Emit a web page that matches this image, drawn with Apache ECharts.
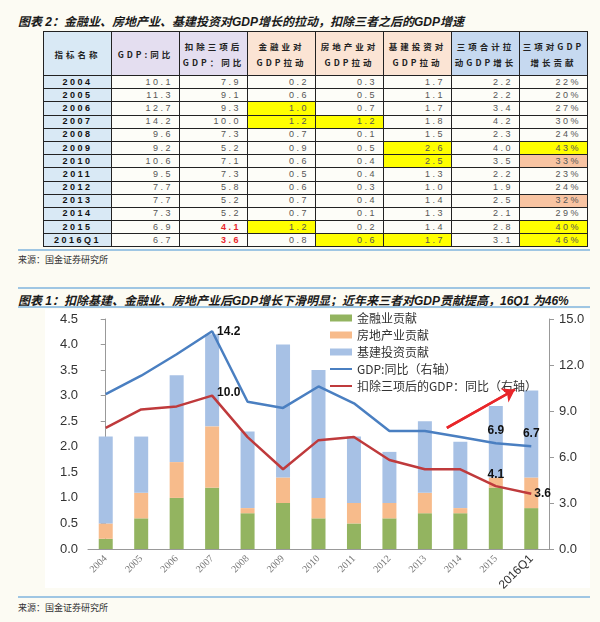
<!DOCTYPE html>
<html>
<head>
<meta charset="utf-8">
<script src="https://cdn.jsdelivr.net/npm/echarts@6/dist/echarts.min.js"></script>
<style>
  body { margin: 0; width: 600px; height: 622px; background: #fcfbf3; position: relative; overflow: hidden;
         font-family: "Liberation Sans", "Noto Sans CJK SC", sans-serif; }
  .ttl { position: absolute; left: 18px; font-size: 12px; font-weight: bold; font-style: italic; color: #1a1a1a;
         font-family: "Liberation Sans", "Noto Sans CJK SC", sans-serif; white-space: nowrap; }
  .rule { position: absolute; left: 18px; width: 572px; height: 2px; background: #9fc6e3; }
  .src { position: absolute; left: 18px; font-size: 9px; color: #333; font-family: "Noto Sans CJK SC", sans-serif; }
  #tbl { position: absolute; left: 43px; top: 31px; border-collapse: collapse; table-layout: fixed; }
  #tbl td, #tbl th { border: 1.5px solid #222; padding: 0; }
  #tbl th { height: 43px; font-size: 8.5px; font-weight: bold; color: #222; letter-spacing: 3px; line-height: 16px;
            font-family: "Noto Sans CJK SC", sans-serif; }
  #tbl td { height: 12.2px; font-size: 9px; line-height: 11px; }
  #tbl td.yr { background: #d9e9f5; text-align: center; font-weight: bold; color: #111; letter-spacing: 2.5px; }
  #tbl td.v { background: #fdfdf8; text-align: right; padding-right: 6px; color: #555; letter-spacing: 2.5px; }
  #tbl td.hy { background: #ffff00; }
  #tbl td.hs { background: #f8c4a2; }
  #tbl td.red { color: #e8262a; font-weight: bold; }
  #chart { position: absolute; left: 0; top: 310px; width: 600px; height: 286px; }
  #panel { position: absolute; left: 45px; top: 309px; width: 545px; height: 279px; background: #ffffff; }
</style>
</head>
<body>
<div class="ttl" style="top:12px">图表 2：金融业、房地产业、基建投资对GDP增长的拉动，扣除三者之后的GDP增速</div>
<table id="tbl"></table>
<div class="rule" style="top:249px"></div>
<div class="src" style="top:253px">来源：国金证券研究所</div>
<div class="rule" style="top:287px"></div>
<div class="ttl" style="top:291px">图表 1：扣除基建、金融业、房地产业后GDP增长下滑明显；近年来三者对GDP贡献提高，16Q1 为46%</div>
<div class="rule" style="top:306px"></div>
<div id="panel"></div>
<div id="chart"></div>
<div class="rule" style="top:596px"></div>
<div class="src" style="top:601px">来源：国金证券研究所</div>
<script>
const years = ['2004', '2005', '2006', '2007', '2008', '2009', '2010', '2011', '2012', '2013', '2014', '2015', '2016Q1'];
const gdp = [10.1, 11.3, 12.7, 14.2, 9.6, 9.2, 10.6, 9.5, 7.7, 7.7, 7.3, 6.9, 6.7];
const gdpEx = [7.9, 9.1, 9.3, 10.0, 7.3, 5.2, 7.1, 7.3, 5.8, 5.2, 5.2, 4.1, 3.6];
const finance = [0.2, 0.6, 1.0, 1.2, 0.7, 0.9, 0.6, 0.5, 0.6, 0.7, 0.7, 1.2, 0.8];
const realty = [0.3, 0.5, 0.7, 1.2, 0.1, 0.5, 0.4, 0.4, 0.3, 0.4, 0.1, 0.2, 0.6];
const infra = [1.7, 1.1, 1.7, 1.8, 1.5, 2.6, 2.5, 1.3, 1.0, 1.4, 1.3, 1.4, 1.7];
const total = [2.2, 2.2, 3.4, 4.2, 2.3, 4.0, 3.5, 2.2, 1.9, 2.5, 2.1, 2.8, 3.1];
const share = ['22%', '20%', '27%', '30%', '24%', '43%', '33%', '23%', '24%', '32%', '29%', '40%', '46%'];
// red arrow annotation, [category position, right-axis value]
const arrowFrom = [9.62, 7.9];
const arrowTo = [11.54, 10.4];

const headers = ['指标名称', 'GDP:同比', '扣除三项后<br>GDP：同比', '金融业对<br>GDP拉动', '房地产业对<br>GDP拉动',
  '基建投资对<br>GDP拉动', '三项合计拉<br>动GDP增长', '三项对GDP<br>增长贡献'];
const headBg = ['#d9e9f5', '#e4def0', '#e4def0', '#fbe4d4', '#fbe4d4', '#fbe4d4', '#c6d9f0', '#c6d9f0'];
// highlighted cells: "row,col" -> class
const marks = { '2,3': 'hy', '3,3': 'hy', '3,4': 'hy', '5,5': 'hy', '5,7': 'hy', '6,5': 'hy', '6,7': 'hs',
  '9,7': 'hs', '11,3': 'hy', '11,7': 'hy', '12,4': 'hy', '12,5': 'hy', '12,7': 'hy', '11,2': 'red', '12,2': 'red' };

// build the table
let html = '<colgroup>' + headers.map(() => '<col style="width:68px">').join('') + '</colgroup><tr>';
headers.forEach((h, i) => { html += `<th style="background:${headBg[i]}">${h}</th>`; });
html += '</tr>';
years.forEach((y, r) => {
  const vals = [gdp[r].toFixed(1), gdpEx[r].toFixed(1), finance[r].toFixed(1), realty[r].toFixed(1),
    infra[r].toFixed(1), total[r].toFixed(1), share[r]];
  html += `<tr><td class="yr">${y}</td>`;
  vals.forEach((v, c) => { html += `<td class="v ${marks[r + ',' + (c + 1)] || ''}">${v}</td>`; });
  html += '</tr>';
});
document.getElementById('tbl').innerHTML = html;

// chart
const chart = echarts.init(document.getElementById('chart'));
const lbl = { show: true, fontWeight: 'bold', fontSize: 12, color: '#111', fontFamily: 'Liberation Sans',
  formatter: p => Number(p.value).toFixed(1) };
// value labels on selected points, placed via markPoint on the data coordinates
const pin = (arr, i, label) => ({ coord: [i, arr[i]], value: arr[i], label: { ...lbl, ...label } });
const axisTxt = { color: '#333', fontSize: 13, fontFamily: 'Liberation Sans' };
const noDot = { color: 'rgba(0,0,0,0)', borderWidth: 0, opacity: 0 };

chart.setOption({
  animation: false,
  grid: { left: 88, right: 51, top: 9, bottom: 47 },
  legend: {
    orient: 'vertical', left: 324, top: -3, itemGap: 5, itemWidth: 22, itemHeight: 7,
    textStyle: { fontSize: 12, color: '#333', fontFamily: 'Noto Sans CJK SC' },
    data: [
      { name: '金融业贡献', icon: 'rect' },
      { name: '房地产业贡献', icon: 'rect' },
      { name: '基建投资贡献', icon: 'rect' },
      { name: 'GDP:同比（右轴）', itemStyle: noDot },
      { name: '扣除三项后的GDP：同比（右轴）', itemStyle: noDot }
    ]
  },
  xAxis: [
    {
      type: 'category', data: years,
      axisLine: { lineStyle: { color: '#999' } },
      axisTick: { lineStyle: { color: '#999' } },
      axisLabel: {
        rotate: 45, interval: 0, color: '#777', fontSize: 10, fontFamily: 'Liberation Serif', margin: 8,
        formatter: v => v === '2016Q1' ? '{b|' + v + '}' : v,
        rich: { b: { fontSize: 12, color: '#333', fontFamily: 'Liberation Sans' } }
      }
    },
    // hidden value axis matching the category slots, used for the arrow annotation
    { type: 'value', min: -0.5, max: years.length - 0.5, show: false }
  ],
  yAxis: [
    {
      type: 'value', min: 0, max: 4.5, interval: 0.5,
      axisLine: { show: true, lineStyle: { color: '#999' } },
      axisTick: { show: true, lineStyle: { color: '#999' } },
      splitLine: { show: false },
      axisLabel: { ...axisTxt, margin: 10, formatter: v => v.toFixed(1) }
    },
    {
      type: 'value', min: 0, max: 15, interval: 3,
      axisLine: { show: true, lineStyle: { color: '#999' } },
      axisTick: { show: true, lineStyle: { color: '#999' } },
      splitLine: { show: false },
      axisLabel: { ...axisTxt, margin: 10, formatter: v => v.toFixed(1) }
    }
  ],
  series: [
    { name: '金融业贡献', type: 'bar', stack: 'a', barWidth: 14, data: finance, itemStyle: { color: '#93b460' } },
    { name: '房地产业贡献', type: 'bar', stack: 'a', data: realty, itemStyle: { color: '#f7bb8b' } },
    { name: '基建投资贡献', type: 'bar', stack: 'a', data: infra, itemStyle: { color: '#a7c1e5' } },
    {
      name: 'GDP:同比（右轴）', type: 'line', yAxisIndex: 1, data: gdp, symbol: 'none',
      lineStyle: { color: '#4a7fc1', width: 2.5 }, itemStyle: { color: '#4a7fc1' },
      markPoint: {
        symbol: 'circle', symbolSize: 0, silent: true,
        data: [
          pin(gdp, 3, { position: 'right', distance: 5 }),
          pin(gdp, 11, { position: 'top', distance: 7 }),
          pin(gdp, 12, { position: 'top', distance: 7 })
        ]
      }
    },
    {
      name: '扣除三项后的GDP：同比（右轴）', type: 'line', yAxisIndex: 1, data: gdpEx, symbol: 'none',
      lineStyle: { color: '#bf3a3c', width: 2.5 }, itemStyle: { color: '#bf3a3c' },
      markPoint: {
        symbol: 'circle', symbolSize: 0, silent: true,
        data: [
          pin(gdpEx, 3, { position: 'right', distance: 5, offset: [0, -3] }),
          pin(gdpEx, 11, { position: 'top', distance: 5 }),
          pin(gdpEx, 12, { position: 'right', distance: 3 })
        ]
      }
    },
    {
      name: 'arrow', type: 'line', xAxisIndex: 1, yAxisIndex: 1, data: [arrowFrom, arrowTo],
      symbol: 'none', lineStyle: { color: '#e8262a', width: 2.5 }, silent: true,
      markLine: {
        silent: true, symbol: ['none', 'arrow'], symbolSize: 12,
        lineStyle: { color: '#e8262a', width: 2.5, type: 'solid' },
        label: { show: false },
        data: [[{ coord: arrowFrom }, { coord: arrowTo }]]
      }
    }
  ]
});
</script>
</body>
</html>
